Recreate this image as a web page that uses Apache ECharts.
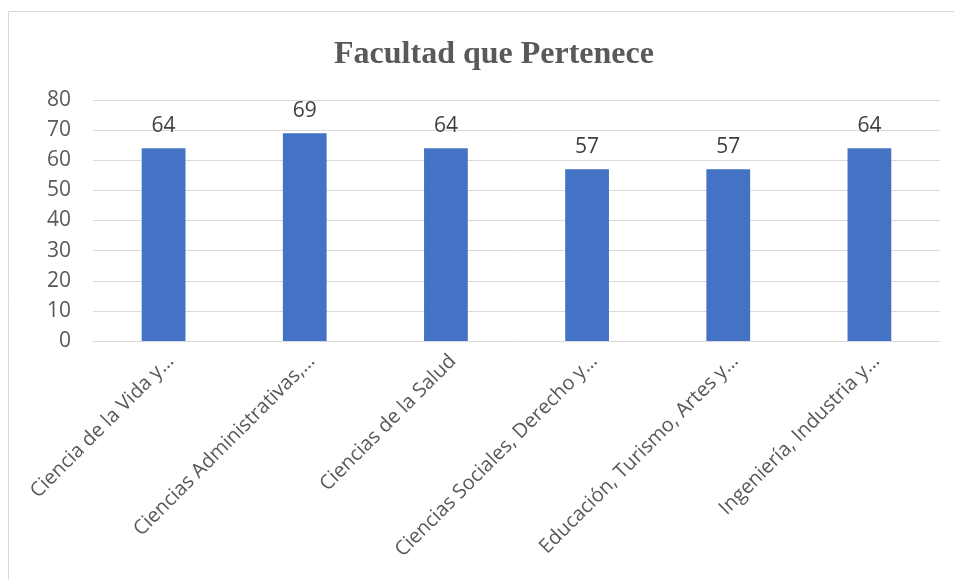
<!DOCTYPE html>
<html>
<head>
<meta charset="utf-8">
<script src="https://cdn.jsdelivr.net/npm/echarts@6/dist/echarts.min.js"></script>
<style>
  html, body { margin: 0; padding: 0; background: #ffffff; }
  #chart { width: 954px; height: 580px; }
</style>
</head>
<body>
<div id="chart"></div>
<script>
const chartTitle = 'Facultad que Pertenece';
const categories = [
  'Ciencia de la Vida y…',
  'Ciencias Administrativas,…',
  'Ciencias de la Salud',
  'Ciencias Sociales, Derecho y…',
  'Educación, Turismo, Artes y…',
  'Ingeniería, Industria y…'
];
const values = [64, 69, 64, 57, 57, 64];
const yMin = 0, yMax = 80, yStep = 10;

const chart = echarts.init(document.getElementById('chart'), null, { renderer: 'canvas' });
chart.setOption({
  animation: false,
  backgroundColor: '#ffffff',
  graphic: [{
    type: 'rect',
    shape: { x: 8.5, y: 11.5, width: 1000, height: 1000 },
    style: { fill: 'none', stroke: '#d9d9d9', lineWidth: 1 },
    silent: true
  }],
  title: {
    text: chartTitle,
    left: 489,
    top: 34,
    textAlign: 'center',
    textStyle: {
      fontFamily: '"Liberation Serif", serif',
      fontWeight: 'bold',
      fontSize: 32,
      color: '#595959'
    }
  },
  grid: { left: 93, right: 14, top: 100, bottom: 239, containLabel: false },
  xAxis: {
    type: 'category',
    data: categories,
    axisLine: { show: true, lineStyle: { color: '#d9d9d9', width: 1 } },
    axisTick: { show: false },
    axisLabel: {
      interval: 0,
      rotate: 45,
      margin: 10,
      verticalAlign: 'top',
      fontFamily: '"Open Sans", sans-serif',
      fontSize: 20,
      color: '#595959'
    }
  },
  yAxis: {
    type: 'value',
    min: yMin, max: yMax, interval: yStep,
    axisLine: { show: false },
    axisTick: { show: false },
    splitLine: { lineStyle: { color: '#d9d9d9', width: 1 } },
    axisLabel: {
      margin: 22,
      fontFamily: '"Open Sans", sans-serif',
      fontSize: 21,
      color: '#595959'
    }
  },
  series: [{
    type: 'bar',
    data: values,
    barWidth: '31%',
    itemStyle: { color: '#4472c4' },
    label: {
      show: true,
      position: 'top',
      distance: 12,
      fontFamily: '"Open Sans", sans-serif',
      fontSize: 21,
      color: '#404040'
    }
  }]
});
</script>
</body>
</html>
